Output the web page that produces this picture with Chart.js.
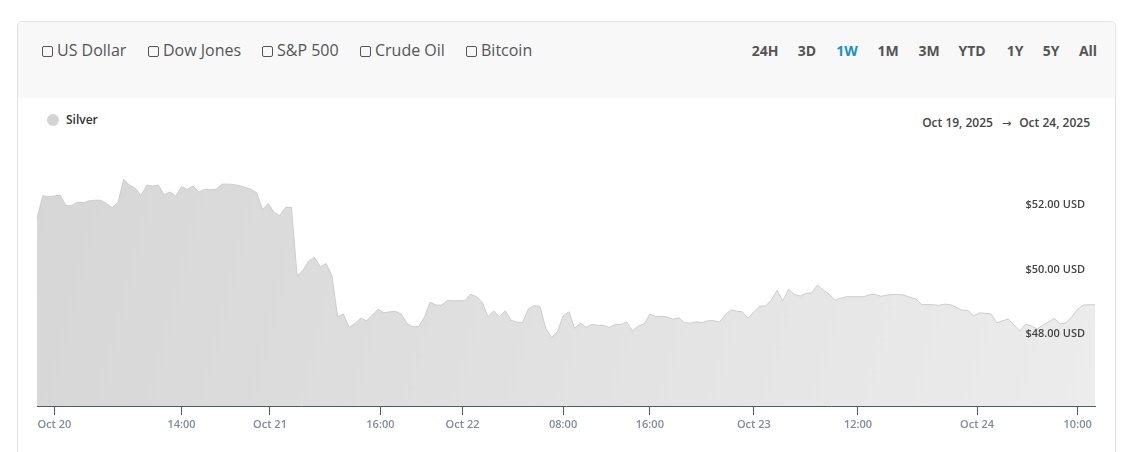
<!DOCTYPE html>
<html>
<head>
<meta charset="utf-8">
<script src="https://cdn.jsdelivr.net/npm/chart.js@4/dist/chart.umd.min.js"></script>
<style>
  html, body { margin: 0; padding: 0; background: #fff; }
  body { width: 1137px; height: 452px; position: relative; overflow: hidden; font-family: "Open Sans", sans-serif; }
  .card { position: absolute; left: 17px; top: 21px; width: 1097px; height: 460px; border: 1px solid #e2e2e2; border-radius: 5px; background: #fff; }
  .card-head { position: absolute; left: 0; top: 0; right: 0; height: 76px; background: #f8f8f8; border-radius: 5px 5px 0 0; }
  .compare { position: absolute; top: 17px; font-size: 16px; color: #555; line-height: 22px; }
  .compare span.box { display: inline-block; width: 9px; height: 9px; border: 1px solid #555; border-radius: 2px; margin-right: 4px; vertical-align: -1px; }
  .ranges { position: absolute; top: 19px; font-size: 14px; font-weight: 700; color: #555; line-height: 20px; }
  .ranges span { position: absolute; transform: translateX(-50%); white-space: nowrap; }
  .ranges span.on { color: #1e8fc6; }
  .legend { position: absolute; left: 47px; top: 112px; font-size: 12px; font-weight: 600; color: #333; line-height: 16px; }
  .legend i { display: inline-block; width: 12px; height: 12px; border-radius: 50%; background: #d4d4d4; margin-right: 7px; vertical-align: -2px; }
  .range-text { position: absolute; right: 47px; top: 115px; font-size: 12px; font-weight: 600; color: #444; line-height: 16px; }
  .range-text b { font-family: "DejaVu Sans", sans-serif; font-weight: 400; font-size: 11px; margin: 0 8px 0 9px; }
  #chartWrap { position: absolute; left: 0; top: 100px; width: 1137px; height: 352px; }
</style>
</head>
<body>
<div class="card">
  <div class="card-head">
    <div class="compare" style="left:24px"><span class="box"></span>US Dollar</div>
    <div class="compare" style="left:130px"><span class="box"></span>Dow Jones</div>
    <div class="compare" style="left:244px"><span class="box"></span>S&amp;P 500</div>
    <div class="compare" style="left:342px"><span class="box"></span>Crude Oil</div>
    <div class="compare" style="left:448px"><span class="box"></span>Bitcoin</div>
    <div class="ranges" id="ranges"></div>
  </div>
</div>
<div class="legend"><i></i>Silver</div>
<div class="range-text">Oct 19, 2025<b>&rarr;</b>Oct 24, 2025</div>
<div id="chartWrap"><canvas id="chart"></canvas></div>

<script>
// range buttons in the header
const rangeNames = ['24H', '3D', '1W', '1M', '3M', 'YTD', '1Y', '5Y', 'All'];
const rangeCenters = [747, 789, 829, 870, 911, 954, 997, 1033, 1070];
const activeRange = '1W';

// silver price, one value per sample (USD)
const silverPrices = [
  51.59, 52.29, 52.26, 52.28, 52.31, 51.99, 51.99, 52.09, 52.07, 52.13,
  52.15, 52.15, 52.05, 51.92, 52.08, 52.80, 52.62, 52.52, 52.30, 52.62,
  52.59, 52.62, 52.32, 52.41, 52.28, 52.57, 52.49, 52.59, 52.40, 52.49,
  52.47, 52.49, 52.65, 52.65, 52.64, 52.60, 52.55, 52.49, 52.38, 51.87,
  52.05, 51.77, 51.68, 51.93, 51.93, 49.80, 49.98, 50.27, 50.38, 50.09,
  50.19, 49.83, 48.54, 48.62, 48.21, 48.33, 48.49, 48.41, 48.59, 48.77,
  48.66, 48.69, 48.71, 48.62, 48.33, 48.23, 48.23, 48.52, 48.99, 48.90,
  48.90, 49.04, 49.03, 49.04, 49.03, 49.24, 49.16, 49.00, 48.54, 48.72,
  48.54, 48.72, 48.43, 48.37, 48.36, 48.78, 48.89, 48.85, 48.18, 47.89,
  48.07, 48.56, 48.69, 48.18, 48.34, 48.21, 48.30, 48.27, 48.27, 48.21,
  48.30, 48.30, 48.37, 48.10, 48.25, 48.31, 48.62, 48.54, 48.55, 48.53,
  48.46, 48.51, 48.35, 48.34, 48.38, 48.36, 48.41, 48.42, 48.37, 48.59,
  48.75, 48.71, 48.69, 48.49, 48.69, 48.87, 48.87, 49.05, 49.36, 49.03,
  49.39, 49.23, 49.18, 49.26, 49.28, 49.52, 49.36, 49.24, 49.05, 49.11,
  49.16, 49.16, 49.16, 49.16, 49.22, 49.23, 49.17, 49.21, 49.23, 49.23,
  49.21, 49.14, 49.09, 48.92, 48.92, 48.91, 48.89, 48.93, 48.91, 48.83,
  48.74, 48.74, 48.56, 48.66, 48.64, 48.63, 48.35, 48.41, 48.47, 48.28,
  48.09, 48.31, 48.25, 48.16, 48.28, 48.38, 48.49, 48.31, 48.35, 48.54,
  48.77, 48.90, 48.91, 48.91
];

// time axis labels and the sample they sit on
const timeTickLabels = ['Oct 20', '14:00', 'Oct 21', '16:00', 'Oct 22', '08:00', '16:00', 'Oct 23', '12:00', 'Oct 24', '10:00'];
const timeTickSamples = [3, 25, 40.3, 59.4, 73.6, 91, 106, 124, 142, 162.6, 180];

// price axis labels
const priceTicks = [48, 50, 52];

const rangesEl = document.getElementById('ranges');
rangeNames.forEach(function(name, i) {
    const s = document.createElement('span');
    s.textContent = name;
    s.style.left = rangeCenters[i] + 'px';
    if (name === activeRange) s.className = 'on';
    rangesEl.appendChild(s);
});

const points = silverPrices.map(function(v, i) { return { x: i, y: v }; });

const ctx = document.getElementById('chart').getContext('2d');

new Chart(ctx, {
    type: 'line',
    data: {
        datasets: [{
            label: 'Silver',
            data: points,
            borderColor: '#cdcdcd',
            borderWidth: 1,
            pointRadius: 0,
            tension: 0,
            fill: 'start',
            backgroundColor: function(context) {
                const area = context.chart.chartArea;
                if (!area) return '#dddddd';
                const g = context.chart.ctx.createLinearGradient(area.left, area.top, area.right, area.bottom);
                g.addColorStop(0, '#d6d6d6');
                g.addColorStop(1, '#ececec');
                return g;
            }
        }]
    },
    options: {
        responsive: true,
        maintainAspectRatio: false,
        animation: false,
        layout: {
            padding: { left: 37, right: 42, top: 40.6, bottom: 17.8 }
        },
        plugins: {
            legend: { display: false },
            tooltip: { enabled: false }
        },
        scales: {
            x: {
                type: 'linear',
                min: 0,
                max: silverPrices.length - 1,
                afterBuildTicks: function(axis) {
                    axis.ticks = timeTickSamples.map(function(v) { return { value: v }; });
                },
                grid: {
                    drawOnChartArea: false,
                    drawTicks: true,
                    tickLength: 9,
                    color: '#4b5d6c'
                },
                border: { display: true, color: '#4b5d6c', width: 1 },
                ticks: {
                    autoSkip: false,
                    maxRotation: 0,
                    padding: 3,
                    color: '#7f8d9a',
                    font: { family: "'Open Sans', sans-serif", size: 11, weight: '600' },
                    callback: function(value) {
                        const k = timeTickSamples.indexOf(value);
                        return k >= 0 ? timeTickLabels[k] : null;
                    }
                }
            },
            y: {
                position: 'right',
                min: 45.77,
                max: 54,
                afterBuildTicks: function(axis) {
                    axis.ticks = priceTicks.map(function(v) { return { value: v }; });
                },
                afterFit: function(axis) {
                    axis.width = 0; // labels sit inside the plot
                },
                grid: { display: false, drawTicks: false },
                border: { display: false },
                ticks: {
                    mirror: true,
                    padding: -10,
                    z: 1,
                    color: '#444',
                    font: { family: "'Open Sans', sans-serif", size: 11, weight: '600' },
                    callback: function(value) {
                        return '$' + value.toFixed(2) + ' USD';
                    }
                }
            }
        }
    }
});
</script>
</body>
</html>
